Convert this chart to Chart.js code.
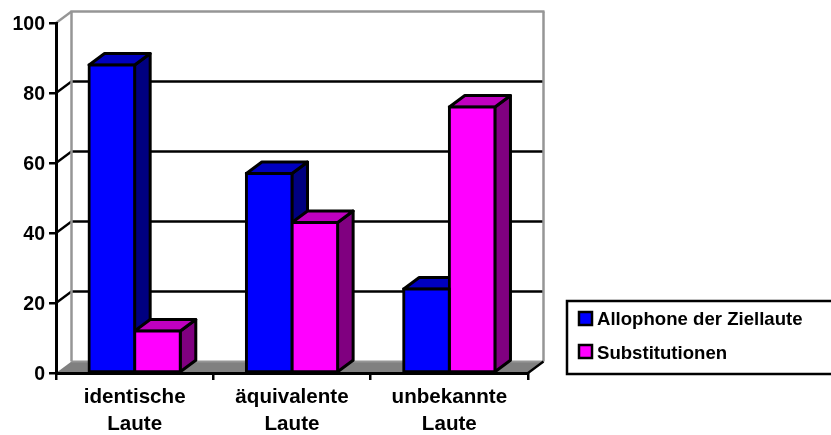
<!DOCTYPE html>
<html>
<head>
<meta charset="utf-8">
<title>Laute</title>
<script src="https://cdn.jsdelivr.net/npm/chart.js@4"></script>
<style>
    html, body { margin: 0; padding: 0; background: #fff; overflow: hidden; }
    canvas { display: block; }
</style>
</head>
<body>
<canvas id="lauteChart" width="831" height="435"></canvas>
<script>
// --- Data ---
const categories = [['identische', 'Laute'], ['äquivalente', 'Laute'], ['unbekannte', 'Laute']];
const allophone = [88, 57, 24];
const substitutionen = [12, 43, 76];
const seriesNames = ['Allophone der Ziellaute', 'Substitutionen'];
const yTicks = [0, 20, 40, 60, 80, 100];

const FONT = "'Liberation Sans', Arial, sans-serif";
const DEPTH_X = 15.5;
const DEPTH_Y = 11.5;
const GREY = '#969696';

// shaded faces per series: front, top, side
const faces = [
    { front: '#0000ff', top: '#0000c0', side: '#000080' },
    { front: '#ff00ff', top: '#c000c0', side: '#800080' }
];

function poly(ctx, pts, fill, stroke, lw) {
    ctx.beginPath();
    pts.forEach((p, i) => i ? ctx.lineTo(p[0], p[1]) : ctx.moveTo(p[0], p[1]));
    ctx.closePath();
    if (fill) { ctx.fillStyle = fill; ctx.fill(); }
    if (stroke) { ctx.strokeStyle = stroke; ctx.lineWidth = lw; ctx.lineJoin = 'round'; ctx.stroke(); }
}

function line(ctx, x1, y1, x2, y2, color, lw) {
    ctx.beginPath();
    ctx.moveTo(x1, y1);
    ctx.lineTo(x2, y2);
    ctx.strokeStyle = color;
    ctx.lineWidth = lw;
    ctx.stroke();
}

// --- Back wall, floor and the gridlines running up the side ---
const wallPlugin = {
    id: 'wall',
    beforeDraw(chart) {
        const { ctx, chartArea: a, scales: { y } } = chart;
        // digits sit a little high on a 'middle' baseline, nudge them onto the ticks
        y.getLabelItems().forEach(item => { item.options.translation[1] += 1.5; });
        ctx.save();
        yTicks.forEach(t => {
            const py = y.getPixelForValue(t);
            if (t > 0 && t < 100) {
                line(ctx, a.left, py, a.left + DEPTH_X, py - DEPTH_Y, '#000', 2.3);
                line(ctx, a.left + DEPTH_X, py - DEPTH_Y, a.right + DEPTH_X, py - DEPTH_Y, '#000', 2.3);
            }
        });
        const top = y.getPixelForValue(100);
        const floor = y.getPixelForValue(0);
        poly(ctx, [[a.left, floor], [a.left + DEPTH_X, floor - DEPTH_Y], [a.right + DEPTH_X, floor - DEPTH_Y], [a.right, floor]], '#808080');
        line(ctx, a.left + DEPTH_X, floor - DEPTH_Y, a.right + DEPTH_X, floor - DEPTH_Y, GREY, 2);
        line(ctx, a.left, top, a.left + DEPTH_X, top - DEPTH_Y, GREY, 2.3);
        line(ctx, a.left + DEPTH_X, top - DEPTH_Y, a.left + DEPTH_X, floor - DEPTH_Y, GREY, 2.5);
        line(ctx, a.left + DEPTH_X - 1, top - DEPTH_Y, a.right + DEPTH_X + 1, top - DEPTH_Y, GREY, 2.5);
        line(ctx, a.right + DEPTH_X, top - DEPTH_Y, a.right + DEPTH_X, floor - DEPTH_Y, GREY, 2.5);
        line(ctx, a.right, floor, a.right + DEPTH_X, floor - DEPTH_Y, '#000', 2.3);
        ctx.restore();
    }
};

// --- Top and side faces behind each bar's front ---
const depthPlugin = {
    id: 'depth',
    beforeDatasetsDraw(chart) {
        const ctx = chart.ctx;
        ctx.save();
        categories.forEach((c, j) => {
            chart.data.datasets.forEach((ds, i) => {
                const bar = chart.getDatasetMeta(i).data[j];
                const l = bar.x - bar.width / 2;
                const r = bar.x + bar.width / 2;
                const t = bar.y;
                const b = bar.base;
                poly(ctx, [[r, t], [r + DEPTH_X, t - DEPTH_Y], [r + DEPTH_X, b - DEPTH_Y], [r, b]], faces[i].side, '#000', 3);
                poly(ctx, [[l, t], [l + DEPTH_X, t - DEPTH_Y], [r + DEPTH_X, t - DEPTH_Y], [r, t]], faces[i].top, '#000', 3);
            });
        });
        ctx.restore();
    }
};

// --- Boxed legend, open at the right edge of the canvas ---
const legendPlugin = {
    id: 'boxLegend',
    afterDraw(chart) {
        const ctx = chart.ctx;
        ctx.save();
        ctx.strokeStyle = '#000';
        ctx.lineWidth = 2.5;
        ctx.strokeRect(567, 301, 280, 73);
        ctx.font = 'bold 18.6px ' + FONT;
        ctx.textBaseline = 'alphabetic';
        seriesNames.forEach((name, i) => {
            const top = i === 0 ? 312 : 345;
            ctx.fillStyle = faces[i].front;
            ctx.fillRect(579, top, 13, 13);
            ctx.lineWidth = 2.5;
            ctx.strokeRect(579, top, 13, 13);
            ctx.fillStyle = '#000';
            ctx.fillText(name, 597, i === 0 ? 324.5 : 358.5);
        });
        ctx.restore();
    }
};

new Chart(document.getElementById('lauteChart'), {
    type: 'bar',
    data: {
        labels: categories,
        datasets: [allophone, substitutionen].map((values, i) => ({
            label: seriesNames[i],
            data: values,
            backgroundColor: faces[i].front,
            borderColor: '#000',
            borderWidth: 3,
            borderSkipped: false,
            inflateAmount: 1.5,
            barPercentage: 1,
            categoryPercentage: 0.58,
            clip: false
        }))
    },
    options: {
        responsive: false,
        animation: false,
        layout: { padding: { top: 23, right: 303, left: 0, bottom: 0 } },
        plugins: { legend: { display: false }, tooltip: { enabled: false } },
        scales: {
            x: {
                afterFit(scale) { scale.height = 62; },
                grid: { offset: true, drawOnChartArea: false, drawTicks: true, tickLength: 7, color: '#000', lineWidth: 2.5 },
                border: { color: '#000', width: 3 },
                ticks: { color: '#000', font: { family: FONT, weight: 'bold', size: 20.6, lineHeight: 1.3 }, padding: 4, maxRotation: 0, autoSkip: false }
            },
            y: {
                min: 0,
                max: 100,
                afterFit(scale) { scale.width = 56; },
                afterBuildTicks(scale) { scale.ticks = yTicks.map(v => ({ value: v })); },
                grid: { drawOnChartArea: false, drawTicks: true, tickLength: 7, color: '#000', lineWidth: 2.5 },
                border: { color: '#000', width: 3 },
                ticks: { color: '#000', font: { family: FONT, weight: 'bold', size: 19.5 }, padding: 4 }
            }
        }
    },
    plugins: [wallPlugin, depthPlugin, legendPlugin]
});
</script>
</body>
</html>
